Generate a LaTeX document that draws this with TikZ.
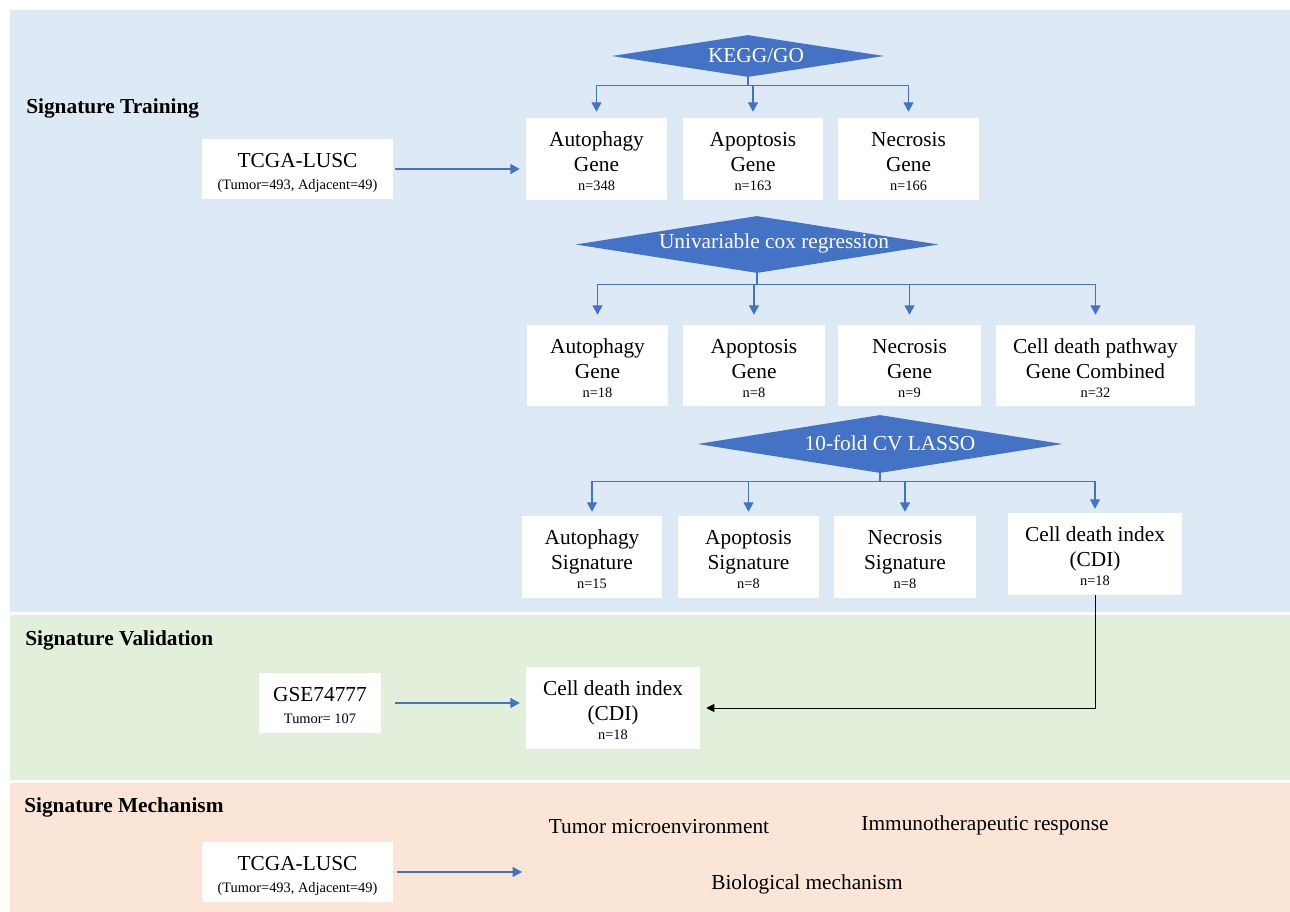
\documentclass[tikz,border=0pt]{standalone}
\usepackage{fontspec}
\setmainfont{Liberation Serif}
\usetikzlibrary{shapes.geometric,arrows.meta,calc}
\definecolor{panelblue}{RGB}{222,233,246}
\definecolor{panelgreen}{RGB}{226,239,218}
\definecolor{panelsalmon}{RGB}{251,229,214}
\definecolor{accent}{RGB}{68,114,196}
\newcommand{\mainsz}{\fontsize{16}{18.75}\selectfont}
\newcommand{\subsz}{\fontsize{10.8}{13}\selectfont}
\newcommand{\tstrut}{\rule{0pt}{15pt}}
\newcommand{\ttstrut}{\rule{0pt}{17pt}}
\tikzset{
  bx/.style 2 args={fill=white, draw=none, align=center, font=\mainsz, inner sep=0pt,
    minimum width=#1*0.75pt, minimum height=#2*0.75pt},
  dia/.style n args={3}{diamond, fill=accent, draw=none, inner sep=0pt,
    minimum width=#1*0.75pt, minimum height=#2*0.75pt, aspect=#3},
  dtext/.style={text=white, font=\mainsz, inner sep=0pt},
  arr/.style={draw=accent, line width=0.9pt, -{Triangle[width=7.5pt,length=7pt]}},
  blk/.style={draw=black, line width=0.6pt, -{Triangle[width=6pt,length=6pt]}},
  head/.style={font=\mainsz\bfseries, anchor=west, inner sep=0pt},
  plain/.style={font=\mainsz, inner sep=0pt},
}
\begin{document}
\begin{tikzpicture}[x=0.75pt, y=-0.75pt]
\useasboundingbox (0,0) rectangle (1290,912);
% panels
\fill[panelblue] (10,10) rectangle (1290,612);
\fill[panelgreen] (10,615) rectangle (1290,780);
\fill[panelsalmon] (10,783) rectangle (1290,912);

% headings
\node[head] (h1) at (26,108) {Signature Training};
\node[head] (h2) at (25,640) {Signature Validation};
\node[head] (h3) at (24,807) {Signature Mechanism};

% diamonds
\node[dia={272}{42}{6.476}] (d1) at (748,56) {};
\node[dtext] (t1) at (756,56) {KEGG/GO};
\node[dia={363}{57}{6.368}] (d2) at (757,244.5) {};
\node[dtext] (t2) at (774,243) {Univariable cox regression};
\node[dia={365}{58}{6.293}] (d3) at (880,444) {};
\node[dtext] (t3) at (890,443) {10-fold CV LASSO};

% row 1
\node[bx={191}{60}] (tcga1) at (297.5,169) {\ttstrut TCGA-LUSC\\[-2.25pt]{\subsz (Tumor=493, Adjacent=49)}};
\node[bx={141}{82}] (a1) at (596.5,159) {\tstrut Autophagy\\Gene\\[-4.5pt]{\subsz n=348}};
\node[bx={140}{82}] (p1) at (753,159) {\tstrut Apoptosis\\Gene\\[-4.5pt]{\subsz n=163}};
\node[bx={141}{82}] (n1) at (908.5,159) {\tstrut Necrosis\\Gene\\[-4.5pt]{\subsz n=166}};

% row 2
\node[bx={141}{81}] (a2) at (597.5,365.5) {\tstrut Autophagy\\Gene\\[-4.5pt]{\subsz n=18}};
\node[bx={142}{81}] (p2) at (754,365.5) {\tstrut Apoptosis\\Gene\\[-4.5pt]{\subsz n=8}};
\node[bx={143}{81}] (n2) at (909.5,365.5) {\tstrut Necrosis\\Gene\\[-4.5pt]{\subsz n=9}};
\node[bx={199}{81}] (c2) at (1095.5,365.5) {\tstrut Cell death pathway\\Gene Combined\\[-4.5pt]{\subsz n=32}};

% row 3
\node[bx={140}{82}] (a3) at (592,557) {\tstrut Autophagy\\Signature\\[-4.5pt]{\subsz n=15}};
\node[bx={141}{82}] (p3) at (748.5,557) {\tstrut Apoptosis\\Signature\\[-4.5pt]{\subsz n=8}};
\node[bx={142}{82}] (n3) at (905,557) {\tstrut Necrosis\\Signature\\[-4.5pt]{\subsz n=8}};
\node[bx={174}{82}] (c3) at (1095,554) {\tstrut Cell death index\\(CDI)\\[-4.5pt]{\subsz n=18}};

% validation
\node[bx={122}{60}] (gse) at (320,703) {\tstrut GSE74777\\[-2.25pt]{\subsz Tumor= 107}};
\node[bx={174}{82}] (cdiv) at (613,708) {\tstrut Cell death index\\(CDI)\\[-4.5pt]{\subsz n=18}};

% mechanism
\node[bx={191}{60}] (tcga2) at (297.5,872) {\ttstrut TCGA-LUSC\\[-2.25pt]{\subsz (Tumor=493, Adjacent=49)}};
\coordinate (mechin) at (522,867);
\node[plain] (m1) at (659,827) {Tumor microenvironment};
\node[plain] (m2) at (985,825) {Immunotherapeutic response};
\node[plain] (m3) at (807,884) {Biological mechanism};

% connectors: tree 1
\foreach \c in {a1,p1,n1}
  \draw[arr, shorten >=4.5pt] (d1.south) -- ++(0,8) -| (\c.north);
% tree 2
\foreach \c in {a2,p2,n2,c2}
  \draw[arr, shorten >=7.5pt] (d2.south) -- ++(0,11) -| (\c.north);
% tree 3
\foreach \c in {a3,p3,n3,c3}
  \draw[arr, shorten >=3pt] (d3.south) -- ++(0,8) -| (\c.north);

\draw[arr, shorten <=1.5pt, shorten >=4.5pt] (tcga1.east) -- (tcga1.east -| a1.west);
\draw[arr, shorten <=10.5pt, shorten >=4.5pt] (gse.east) -- (gse.east -| cdiv.west);
\draw[blk, shorten >=4.5pt] (c3.south) |- (cdiv.east);
\draw[arr, shorten <=3pt] (tcga2.east) -- (tcga2.east -| mechin);
\end{tikzpicture}
\end{document}
